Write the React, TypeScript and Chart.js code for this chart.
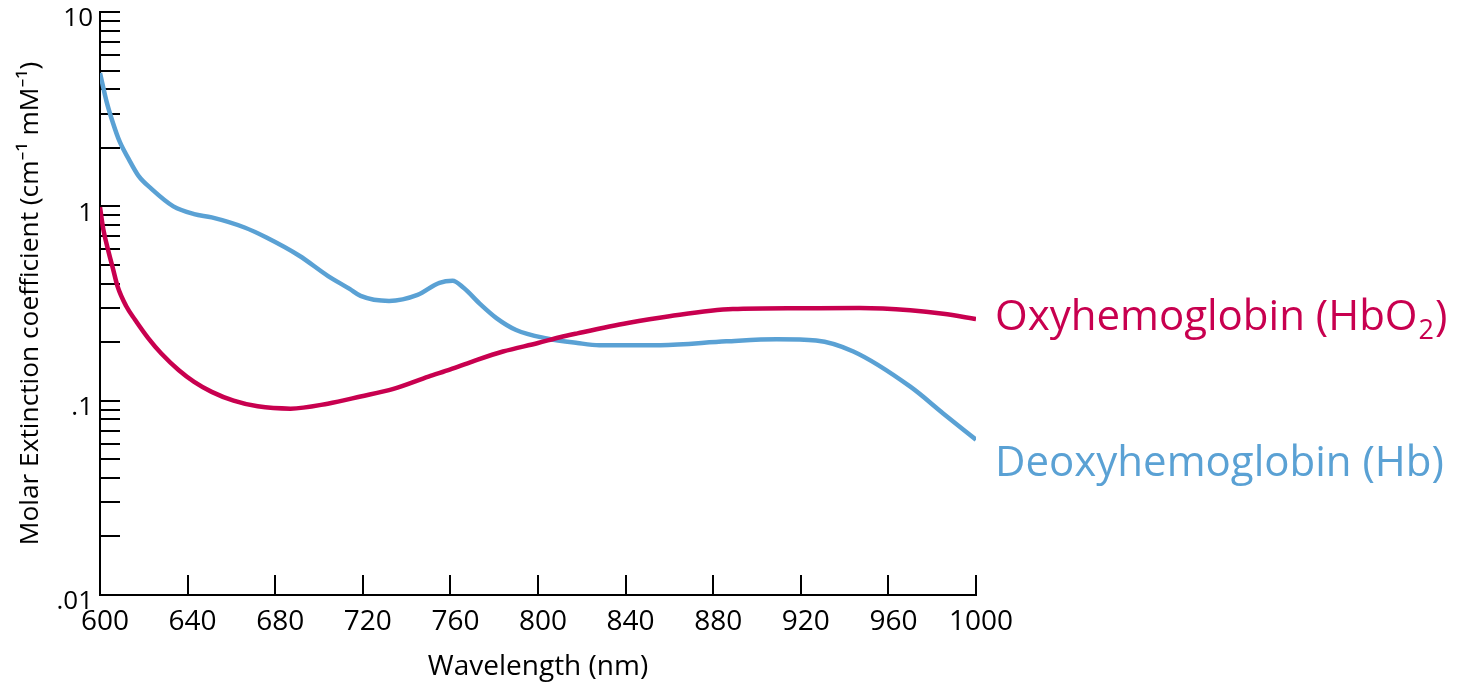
import React, { useEffect, useRef } from 'react';
import { Chart, registerables } from 'chart.js';

Chart.register(...registerables);

// Oxyhemoglobin (HbO2)
const hbo2Wavelengths = [600, 601.5, 604, 606, 608, 612, 616, 622, 628, 636, 643, 651, 661, 672, 687, 704, 719, 734, 750, 760, 770, 784, 800, 810, 818, 841, 860, 889, 920, 947, 970, 985, 1000];
const hbo2Values = [0.99, 0.763, 0.578, 0.474, 0.388, 0.306, 0.261, 0.21, 0.175, 0.1435, 0.125, 0.111, 0.1, 0.0935, 0.091, 0.0965, 0.105, 0.115, 0.133, 0.145, 0.159, 0.179, 0.198, 0.212, 0.222, 0.251, 0.272, 0.296, 0.299, 0.3, 0.292, 0.28, 0.263];

// Deoxyhemoglobin (Hb)
const hbWavelengths = [600, 603, 606, 609, 613, 617.5, 623.5, 633.5, 643, 651, 666, 676, 691, 704, 714, 719, 732, 745, 755, 761, 766, 774, 781, 790, 804, 818, 828, 856, 886, 909, 927, 944, 970, 985, 1000];
const hbValues = [4.85, 3.46, 2.67, 2.15, 1.76, 1.44, 1.23, 1.0, 0.912, 0.877, 0.778, 0.691, 0.557, 0.439, 0.376, 0.346, 0.326, 0.35, 0.404, 0.414, 0.381, 0.311, 0.266, 0.231, 0.209, 0.198, 0.193, 0.193, 0.202, 0.207, 0.204, 0.179, 0.118, 0.086, 0.063];

// Axis ticks
const yDecades = [0.01, 0.1, 1, 10];
const yDecadeLabels = ['.01', '.1', '1', '10'];
const yMinorMultipliers = [2, 3, 4, 5, 6, 7, 8, 9];
const xTickStep = 40;

const seriesLabels = ['Oxyhemoglobin (HbO', 'Deoxyhemoglobin (Hb)'];
const seriesColors = ['#C8004F', '#5AA1D4'];

const FONT = '"Open Sans", "Noto Sans", sans-serif';

const yTickValues: number[] = [];
yDecades.forEach((d, i) => {
  yTickValues.push(d);
  if (i < yDecades.length - 1) yMinorMultipliers.forEach((m) => yTickValues.push(d * m));
});

const endLabels = {
  id: 'endLabels',
  afterDatasetsDraw(chart: any) {
    const ctx = chart.ctx;
    const x0 = chart.chartArea.right + 19;
    const offsets = [11, 36];
    ctx.save();
    ctx.textAlign = 'left';
    ctx.textBaseline = 'alphabetic';
    chart.data.datasets.forEach((ds: any, i: number) => {
      const meta = chart.getDatasetMeta(i);
      const last = meta.data[meta.data.length - 1];
      const y = last.y + offsets[i];
      ctx.fillStyle = seriesColors[i];
      ctx.font = `42px ${FONT}`;
      ctx.fillText(seriesLabels[i], x0, y);
      if (i === 0) {
        let x = x0 + ctx.measureText(seriesLabels[i]).width;
        ctx.font = `27px ${FONT}`;
        ctx.fillText('2', x + 1, y + 9);
        x += ctx.measureText('2').width + 2;
        ctx.font = `42px ${FONT}`;
        ctx.fillText(')', x, y);
      }
    });
    ctx.restore();
  },
};

export default function App() {
  const canvasRef = useRef<HTMLCanvasElement | null>(null);

  useEffect(() => {
    if (!canvasRef.current) return;
    const chart = new Chart(canvasRef.current, {
      type: 'line',
      data: {
        datasets: [
          {
            label: 'HbO2',
            data: hbo2Wavelengths.map((w, i) => ({ x: w, y: hbo2Values[i] })),
            borderColor: seriesColors[0],
            borderWidth: 4.5,
            pointRadius: 0,
            cubicInterpolationMode: 'monotone',
            fill: false,
          },
          {
            label: 'Hb',
            data: hbWavelengths.map((w, i) => ({ x: w, y: hbValues[i] })),
            borderColor: seriesColors[1],
            borderWidth: 4.5,
            pointRadius: 0,
            cubicInterpolationMode: 'monotone',
            fill: false,
          },
        ],
      },
      options: {
        animation: false,
        responsive: true,
        maintainAspectRatio: false,
        layout: { padding: { top: 12, right: 483, left: 0, bottom: 0 } },
        plugins: { legend: { display: false }, tooltip: { enabled: false } },
        scales: {
          x: {
            type: 'linear',
            min: 600,
            max: 1000,
            ticks: {
              stepSize: xTickStep,
              autoSkip: false,
              maxRotation: 0,
              color: '#000',
              font: { family: FONT, size: 28 },
              padding: 30,
              labelOffset: 5,
              callback: (v: any) => String(v),
            },
            grid: {
              drawOnChartArea: false,
              drawTicks: true,
              tickLength: -20,
              color: '#000',
              lineWidth: 2,
            },
            border: { display: true, color: '#000', width: 2 },
            title: {
              display: true,
              text: 'Wavelength (nm)',
              color: '#000',
              font: { family: FONT, size: 28 },
              padding: { top: 0, bottom: 1 },
            },
            afterFit: (s: any) => {
              s.height = 90;
              s.paddingLeft = 0;
              s.paddingRight = 0;
            },
          },
          y: {
            type: 'logarithmic',
            min: 0.01,
            max: 10,
            afterBuildTicks: (s: any) => {
              s.ticks = yTickValues.map((v) => ({ value: v }));
            },
            ticks: {
              autoSkip: false,
              color: '#000',
              font: { family: FONT, size: 26 },
              padding: 27,
              labelOffset: 7,
              callback: (v: any) => {
                const idx = yDecades.findIndex((d) => Math.abs(Math.log10(d) - Math.log10(Number(v))) < 1e-6);
                return idx >= 0 ? yDecadeLabels[idx] : '';
              },
            },
            grid: {
              drawOnChartArea: false,
              drawTicks: true,
              tickLength: -20,
              color: '#000',
              lineWidth: 2,
            },
            border: { display: true, color: '#000', width: 2 },
            title: {
              display: true,
              text: 'Molar Extinction coefficient (cm⁻¹ mM⁻¹)',
              color: '#000',
              font: { family: FONT, size: 26.3 },
              padding: { top: 15, bottom: 0 },
            },
            afterFit: (s: any) => {
              s.width = 100;
              s.paddingTop = 0;
              s.paddingBottom = 0;
            },
          },
        },
      },
      plugins: [endLabels],
    } as any);
    return () => chart.destroy();
  }, []);

  return (
    <div style={{ position: 'absolute', left: 0, top: 0, width: 1459, height: 685, background: '#fff' }}>
      <canvas ref={canvasRef} />
    </div>
  );
}
